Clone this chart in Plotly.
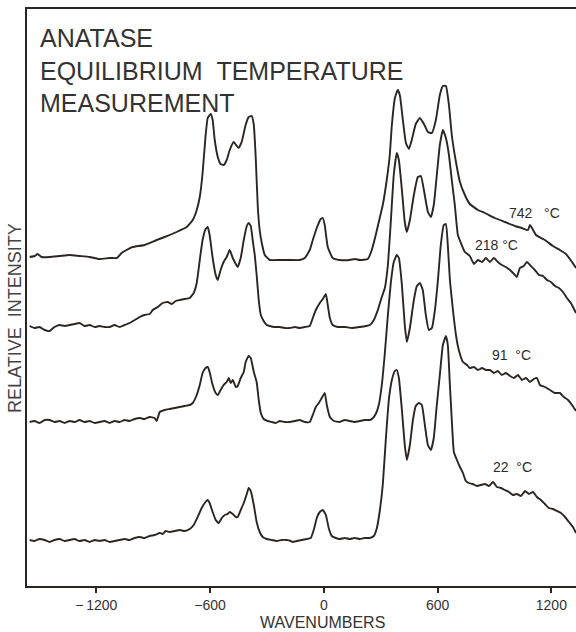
import plotly.graph_objects as go

# Raman spectra of anatase (wavenumber, relative intensity incl. stacking offset)
spec_742 = [(-1551,329),(-1525,330),(-1509,332),(-1488,329),(-1446,329),(-1393,330),(-1340,331),(-1288,330),
    (-1235,329),(-1182,327),(-1129,328),(-1092,328),(-1066,333),(-1040,336),(-1008,339),(-945,341),(-881,346),
    (-839,349),(-776,354),(-723,359),(-691,366),(-670,376),(-654,389),(-639,413),(-623,451),(-612,468),(-596,472),
    (-586,466),(-575,446),(-559,429),(-544,422),(-528,421),(-512,426),(-496,436),(-475,444),(-459,440),(-449,438),
    (-433,444),(-412,461),(-396,469),(-380,470),(-369,461),(-359,429),(-348,379),(-338,356),(-327,343),(-311,331),
    (-285,326),(-232,326),(-179,326),(-127,326),(-100,328),(-74,336),(-58,346),(-37,358),(-16,367),(-5,368),(5,361),
    (21,339),(47,328),(84,326),(137,326),(164,327),(190,326),(232,327),(253,336),(274,351),(290,364),(311,381),
    (332,406),(348,431),(359,461),(375,488),(390,496),(401,491),(417,466),(433,443),(449,437),(464,446),(485,462),
    (507,468),(528,462),(549,454),(570,453),(591,466),(612,491),(628,500),(644,500),(660,481),(675,451),(697,424),
    (718,404),(744,391),(770,382),(813,376),(850,373),(902,368),(955,364),(1008,360),(1045,358),(1077,356),
    (1087,361),(1098,358),(1119,351),(1166,346),(1208,340),(1245,336),(1277,332),(1309,324),(1330,318)]

spec_218 = [(-1551,260),(-1525,258),(-1499,259),(-1472,256),(-1446,255),(-1420,259),(-1393,261),(-1367,260),
    (-1340,261),(-1314,262),(-1288,263),(-1261,260),(-1235,261),(-1208,259),(-1182,260),(-1156,259),(-1129,259),
    (-1103,261),(-1077,259),(-1050,261),(-1024,263),(-997,266),(-971,269),(-945,271),(-918,272),(-902,276),
    (-876,279),(-850,283),(-823,284),(-802,282),(-781,285),(-760,286),(-733,287),(-707,288),(-686,293),(-670,303),
    (-654,326),(-639,346),(-623,357),(-612,359),(-602,351),(-586,328),(-570,311),(-559,306),(-544,316),(-528,324),
    (-512,329),(-496,336),(-480,328),(-464,322),(-454,319),(-438,328),(-422,346),(-406,360),(-396,363),(-385,360),
    (-375,346),(-364,331),(-354,311),(-343,286),(-332,271),(-317,265),(-301,261),(-285,260),(-259,259),(-232,259),
    (-206,258),(-179,258),(-153,259),(-127,258),(-100,259),(-74,260),(-58,268),(-42,276),(-21,283),(-5,287),
    (11,292),(21,281),(32,268),(47,261),(74,259),(111,259),(148,258),(190,259),(222,260),(243,261),(264,266),
    (285,276),(306,289),(322,298),(338,321),(354,366),(369,411),(385,433),(396,426),(412,396),(427,364),(438,354),
    (454,366),(475,391),(496,409),(512,410),(528,396),(549,374),(565,369),(580,381),(596,411),(612,441),(628,456),
    (644,448),(660,431),(675,406),(691,381),(707,351),(723,343),(744,334),(770,330),(792,322),(813,326),(834,324),
    (855,328),(876,324),(897,328),(918,324),(939,321),(960,319),(982,316),(1003,312),(1018,309),(1034,318),
    (1055,320),(1071,324),(1092,320),(1113,316),(1135,311),(1156,310),(1177,306),(1198,304),(1219,300),(1240,298),
    (1261,294),(1282,288),(1303,283),(1330,273)]

spec_91 = [(-1551,164),(-1525,165),(-1499,163),(-1472,166),(-1446,166),(-1420,164),(-1393,165),(-1367,163),
    (-1340,165),(-1314,164),(-1288,166),(-1261,164),(-1235,165),(-1208,163),(-1182,164),(-1156,165),(-1129,163),
    (-1103,165),(-1077,164),(-1050,166),(-1024,165),(-997,167),(-971,168),(-945,167),(-918,169),(-892,168),
    (-881,165),(-865,174),(-839,176),(-813,177),(-786,178),(-760,179),(-733,180),(-707,181),(-691,183),(-670,191),
    (-654,201),(-639,213),(-623,218),(-612,219),(-602,214),(-586,201),(-570,193),(-559,191),(-544,196),(-528,201),
    (-512,204),(-501,208),(-491,203),(-480,206),(-464,199),(-454,200),(-438,208),(-422,214),(-412,224),(-396,230),
    (-385,228),(-369,214),(-354,204),(-343,186),(-332,173),(-317,167),(-296,165),(-274,164),(-253,163),(-232,165),
    (-206,164),(-179,164),(-153,165),(-127,166),(-100,164),(-74,164),(-58,171),(-42,179),(-26,183),(-11,188),
    (5,193),(16,181),(32,169),(53,165),(84,164),(111,166),(137,165),(164,164),(190,165),(216,166),(243,166),
    (259,168),(274,172),(290,181),(306,201),(322,233),(338,271),(354,304),(369,324),(385,331),(396,328),(412,301),
    (427,261),(438,244),(454,258),(475,286),(491,300),(507,303),(522,296),(538,271),(554,256),(570,258),(586,276),
    (602,306),(617,341),(633,361),(644,362),(654,341),(665,306),(681,276),(697,251),(712,236),(734,224),(755,221),
    (770,218),(792,219),(813,216),(834,218),(855,216),(876,216),(897,213),(918,215),(939,211),(960,213),(982,210),
    (1003,208),(1024,211),(1045,206),(1066,208),(1087,204),(1108,207),(1124,208),(1140,201),(1166,199),(1193,196),
    (1219,193),(1245,193),(1266,189),(1288,186),(1309,181),(1330,175)]

spec_22 = [(-1551,46),(-1525,45),(-1499,47),(-1472,46),(-1446,44),(-1420,46),(-1393,47),(-1367,45),(-1340,46),
    (-1314,47),(-1288,45),(-1261,46),(-1235,44),(-1208,46),(-1182,45),(-1156,46),(-1129,44),(-1103,45),(-1077,46),
    (-1050,47),(-1024,46),(-997,48),(-971,49),(-945,48),(-918,50),(-892,51),(-865,53),(-850,52),(-834,55),(-813,54),
    (-786,55),(-760,56),(-733,55),(-707,57),(-686,61),(-665,69),(-644,78),(-628,83),(-612,86),(-602,83),(-586,74),
    (-570,66),(-554,63),(-538,68),(-522,71),(-507,72),(-496,74),(-480,72),(-464,69),(-454,69),(-438,76),(-422,83),
    (-406,92),(-396,98),(-385,95),(-369,81),(-354,64),(-338,54),(-322,49),(-301,47),(-274,46),(-248,45),(-222,46),
    (-195,46),(-174,45),(-164,44),(-142,45),(-116,46),(-90,47),(-69,48),(-53,56),(-37,68),(-21,74),(-5,76),(11,71),
    (26,58),(42,50),(63,48),(84,47),(111,48),(137,47),(164,48),(190,47),(216,48),(243,48),(264,50),(280,58),
    (296,76),(311,101),(327,146),(343,186),(359,206),(375,215),(385,216),(396,208),(412,176),(427,141),(438,126),
    (454,141),(470,166),(485,180),(501,183),(517,181),(533,161),(549,141),(565,136),(580,148),(596,181),(612,211),
    (628,241),(644,250),(654,241),(665,201),(675,166),(686,134),(702,126),(718,119),(734,113),(749,105),(765,103),
    (786,102),(807,100),(828,101),(850,102),(871,100),(892,104),(913,99),(934,98),(955,96),(976,94),(997,91),
    (1018,92),(1040,90),(1061,95),(1082,92),(1103,94),(1124,89),(1145,86),(1166,82),(1187,78),(1208,77),(1230,75),
    (1251,73),(1272,69),(1293,64),(1314,59),(1330,53)]

spectra = [("742", spec_742), ("218", spec_218), ("91", spec_91), ("22", spec_22)]
temp_labels = ["742\u00a0\u00a0\u00a0°C", "218\u00a0°C", "91\u00a0\u00a0°C", "22\u00a0\u00a0°C"]
label_pos = [(0.925, 0.646), (0.856, 0.591), (0.883, 0.400), (0.885, 0.206)]

tick_vals = [-1200, -600, 0, 600, 1200]
tick_text = ["\u2212\u20091200", "\u2212600", "0", "600", "1200"]

title_lines = ["ANATASE", "EQUILIBRIUM\u00a0\u00a0TEMPERATURE", "MEASUREMENT"]
title_y = [0.950, 0.893, 0.837]

INK = "#2b2523"
FONT = "Liberation Sans, Arial, sans-serif"

fig = go.Figure()
for name, pts in spectra:
    xs = [p[0] for p in pts]
    ys = [p[1] for p in pts]
    fig.add_trace(go.Scatter(x=xs, y=ys, mode="lines", name=name,
                             line=dict(color=INK, width=1.9, shape="spline", smoothing=0.4),
                             showlegend=False, hoverinfo="skip"))

ann = []
for txt, y in zip(title_lines, title_y):
    ann.append(dict(text=txt, x=0.02, y=y, xref="paper", yref="paper", xanchor="left",
                    yanchor="middle", showarrow=False, font=dict(size=25, color="#333", family=FONT)))
for txt, (x, y) in zip(temp_labels, label_pos):
    ann.append(dict(text=txt, x=x, y=y, xref="paper", yref="paper", xanchor="center",
                    yanchor="middle", showarrow=False, font=dict(size=14, color="#2b2b2b", family=FONT)))
ann.append(dict(text="WAVENUMBERS", x=0.539, y=-0.0624, xref="paper", yref="paper", xanchor="center",
                yanchor="middle", showarrow=False, font=dict(size=16, color="#333", family=FONT)))
ann.append(dict(text="RELATIVE\u00a0\u00a0INTENSITY", x=-0.0219, y=0.4645, xref="paper", yref="paper",
                xanchor="center", yanchor="middle", textangle=-90, showarrow=False,
                font=dict(size=18, color="#444", family=FONT)))

fig.update_layout(
    width=576, height=632,
    margin=dict(l=27, r=0, t=9, b=46),
    paper_bgcolor="white", plot_bgcolor="white",
    annotations=ann,
    xaxis=dict(range=[-1565, 1330], showgrid=False, zeroline=False, showline=True, mirror=True,
               linecolor=INK, linewidth=1.5, ticks="outside", ticklen=5, tickwidth=1.5,
               tickcolor=INK, tickvals=tick_vals, ticktext=tick_text,
               tickfont=dict(size=14, color="#333", family=FONT)),
    yaxis=dict(range=[0, 577], showgrid=False, zeroline=False, showline=True, linecolor=INK,
               linewidth=1.5, showticklabels=False, ticks=""),
)

fig.write_html("out.html", config={"displayModeBar": False},
               post_script="document.body.style.margin='0';document.body.style.overflow='hidden';")
